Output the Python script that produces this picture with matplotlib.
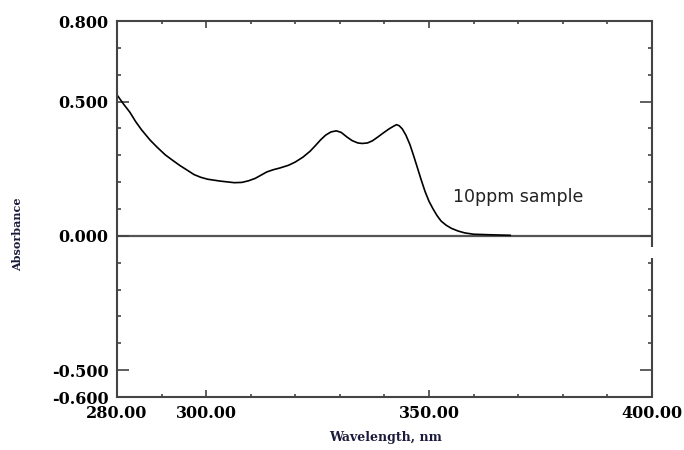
import matplotlib
matplotlib.use("Agg")
import matplotlib.pyplot as plt
from matplotlib.ticker import FixedLocator, MultipleLocator
from matplotlib.lines import Line2D

# Data
wavelength = [280.0, 281.5, 282.9, 284.2, 285.5, 287.4, 289.0, 290.8, 292.5, 294.1,
              295.8, 297.3, 298.8, 300.3, 303.1, 306.3, 308.0, 309.5, 311.0, 312.3,
              313.6, 315.0, 316.6, 318.5, 320.0, 321.7, 323.3, 324.5, 325.7, 326.8,
              328.0, 329.2, 330.3, 331.5, 332.7, 334.0, 335.0, 336.2, 337.3, 338.5,
              339.8, 341.0, 342.0, 342.7, 343.3, 344.0, 344.8, 345.7, 346.5, 347.3,
              348.2, 349.1, 350.0, 350.9, 351.8, 352.7, 353.8, 355.0, 356.5, 358.0,
              360.0, 363.7, 368.2]
absorbance = [0.525, 0.490, 0.460, 0.425, 0.395, 0.357, 0.330, 0.302, 0.281, 0.262,
              0.244, 0.228, 0.218, 0.211, 0.204, 0.198, 0.199, 0.205, 0.214, 0.226,
              0.238, 0.246, 0.253, 0.263, 0.275, 0.293, 0.315, 0.336, 0.358, 0.375,
              0.387, 0.391, 0.385, 0.369, 0.355, 0.346, 0.344, 0.346, 0.354, 0.368,
              0.384, 0.398, 0.408, 0.414, 0.410, 0.398, 0.375, 0.340, 0.300, 0.258,
              0.210, 0.165, 0.128, 0.100, 0.075, 0.055, 0.040, 0.028, 0.018, 0.011,
              0.006, 0.004, 0.002]

x_tick_values = [280, 300, 350, 400]
x_tick_labels = ["280.00", "300.00", "350.00", "400.00"]
y_tick_values = [0.8, 0.5, 0.0, -0.5, -0.6]
y_tick_labels = ["0.800", "0.500", "0.000", "-0.500", "-0.600"]
annotation = "10ppm sample"

fig = plt.figure(figsize=(6.84, 4.5), dpi=100)
ax = fig.add_axes([117/684, 53/450, 535/684, 376/450])

ax.plot(wavelength, absorbance, color="black", lw=1.2)
ax.axhline(0.0, color="#555555", lw=1.6, zorder=1)

ax.set_xlim(280, 400)
ax.set_ylim(-0.6, 0.8)

spine_col = "#444444"
for s in ["left", "top", "bottom"]:
    ax.spines[s].set_color(spine_col)
    ax.spines[s].set_linewidth(1.5)
ax.spines["right"].set_visible(False)
# right spine with a small gap, as in the reference
gap_lo, gap_hi = -0.082, -0.041
for y0, y1 in [(-0.6, gap_lo), (gap_hi, 0.8)]:
    ax.add_line(Line2D([1, 1], [(y0 + 0.6) / 1.4, (y1 + 0.6) / 1.4],
                       transform=ax.transAxes, color=spine_col, lw=1.5,
                       clip_on=False, solid_capstyle="butt"))

ax.xaxis.set_major_locator(FixedLocator(x_tick_values))
ax.set_xticklabels(x_tick_labels)
ax.xaxis.set_minor_locator(MultipleLocator(10))
ax.yaxis.set_major_locator(FixedLocator(y_tick_values))
ax.set_yticklabels(y_tick_labels)
ax.yaxis.set_minor_locator(MultipleLocator(0.1))

ax.tick_params(axis="x", which="major", direction="in", length=5, width=1.2,
               top=True, color=spine_col, pad=6)
ax.tick_params(axis="x", which="minor", direction="in", length=2.2, width=1.2,
               top=True, color=spine_col)
ax.tick_params(axis="y", which="major", direction="in", length=8.5, width=1.2,
               right=True, color=spine_col, pad=6)
ax.tick_params(axis="y", which="minor", direction="in", length=3, width=1.2,
               right=True, color=spine_col)

for lab in ax.get_xticklabels() + ax.get_yticklabels():
    lab.set_fontfamily("DejaVu Serif")
    lab.set_fontweight("bold")
    lab.set_fontsize(11.5)

fig.text(386/684, 1 - 437/450, "Wavelength, nm", family="DejaVu Serif",
         weight="bold", size=9, color="#1a1a3a", ha="center", va="center")
fig.text(18/684, 1 - 234/450, "Absorbance", rotation=90, family="DejaVu Serif",
         weight="bold", size=8, color="#1a1a3a", ha="center", va="center")

ax.text(355.4, 0.127, annotation, family="DejaVu Sans", size=12.5,
        ha="left", va="baseline", color="#222222")

fig.savefig("out.png", dpi=100)
